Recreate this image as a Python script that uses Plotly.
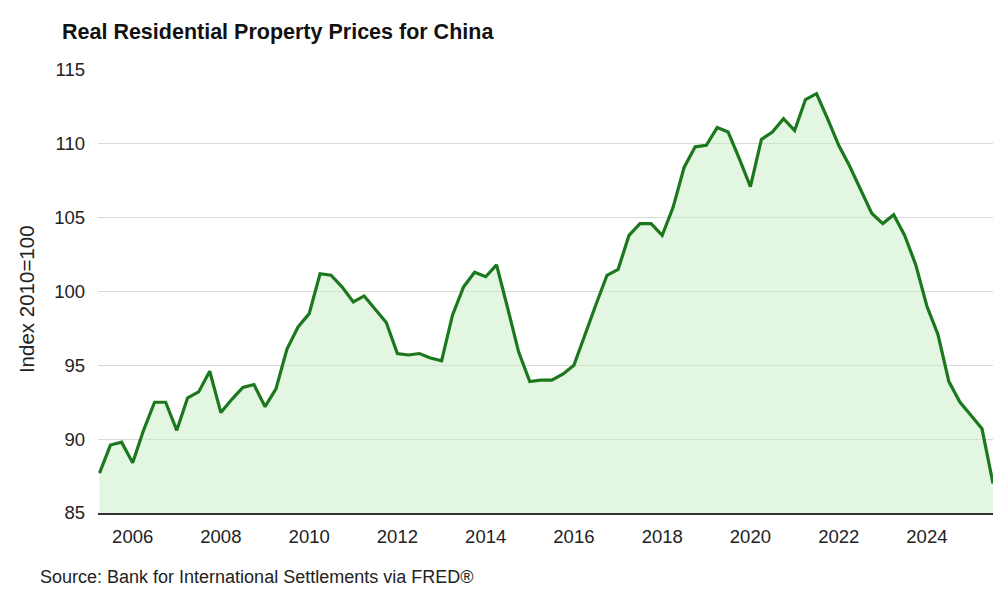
import pandas as pd
import plotly.graph_objects as go

# Quarterly real residential property prices for China, index 2010=100 (2005 Q2 .. 2025 Q3)
start_quarter = "2005-04-01"
values = [
    87.7, 89.6, 89.8, 88.4, 90.6, 92.5, 92.5, 90.6, 92.8, 93.2,
    94.6, 91.8, 92.7, 93.5, 93.7, 92.2, 93.4, 96.1, 97.6, 98.5,
    101.2, 101.1, 100.3, 99.3, 99.7, 98.8, 97.9, 95.8, 95.7, 95.8,
    95.5, 95.3, 98.4, 100.3, 101.3, 101.0, 101.8, 98.9, 95.9, 93.9,
    94.0, 94.0, 94.4, 95.0, 97.1, 99.1, 101.1, 101.5, 103.8, 104.6,
    104.6, 103.8, 105.7, 108.4, 109.8, 109.9, 111.1, 110.8, 109.0, 107.1,
    110.3, 110.8, 111.7, 110.9, 113.0, 113.4, 111.7, 109.9, 108.5, 106.9,
    105.3, 104.6, 105.2, 103.8, 101.8, 99.0, 97.1, 93.9, 92.5, 91.6,
    90.7, 87.0,
]
dates = pd.date_range(start=start_quarter, periods=len(values), freq="QS")

title_text = "Real Residential Property Prices for China"
y_title = "Index 2010=100"
source_text = "Source: Bank for International Settlements via FRED®"
y_ticks = [85, 90, 95, 100, 105, 110, 115]

fig = go.Figure()
fig.add_trace(go.Scatter(
    x=dates, y=values, mode="lines",
    line=dict(color="#1c781c", width=3.2),
    fill="tozeroy", fillcolor="rgba(200,238,196,0.5)",
    hoverinfo="x+y",
))

font_family = "Liberation Sans, Arial, sans-serif"
fig.update_layout(
    width=1000, height=602,
    margin=dict(l=98, r=7, t=70, b=89),
    paper_bgcolor="white", plot_bgcolor="white",
    showlegend=False,
    font=dict(family=font_family, size=18, color="#222222"),
    title=dict(text="<b>" + title_text + "</b>", x=0.062, xanchor="left",
               y=0.947, yanchor="middle",
               font=dict(family=font_family, size=21.5, color="#111111")),
    xaxis=dict(
        range=["2005-03-20", "2025-07-01"],
        tickmode="linear", tick0="2006-01-01", dtick="M24", tickformat="%Y",
        showgrid=False, zeroline=False,
        showline=True, linecolor="#333333", linewidth=1.5,
        ticks="", ticklabelstandoff=6,
        tickfont=dict(size=18.5, color="#222222"),
    ),
    yaxis=dict(
        range=[85, 115], tickvals=y_ticks,
        showgrid=True, gridcolor="#d9d9d9", gridwidth=1,
        zeroline=False, showline=False, ticks="",
        ticklabelstandoff=12,
        tickfont=dict(size=18.5, color="#222222"),
    ),
    annotations=[
        dict(text=source_text, xref="paper", yref="paper",
             x=-0.067, y=-0.145, xanchor="left", yanchor="middle", showarrow=False,
             font=dict(family=font_family, size=18, color="#222222")),
        dict(text=y_title, xref="paper", yref="paper", textangle=-90,
             x=-0.0804, y=0.483, xanchor="center", yanchor="middle", showarrow=False,
             font=dict(family=font_family, size=20.5, color="#222222")),
    ],
)

fig.write_html("out.html")
